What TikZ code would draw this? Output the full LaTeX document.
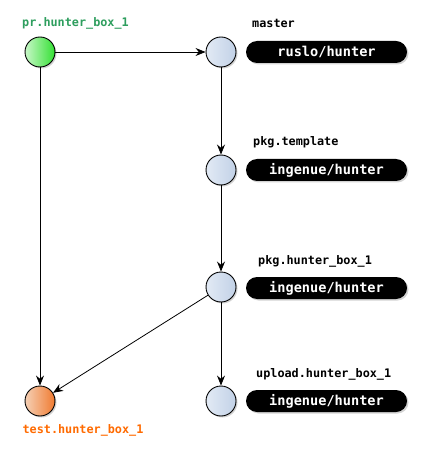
\documentclass[tikz,border=0pt]{standalone}
\usepackage{fontspec}
\setmonofont{DejaVu Sans Mono}
\usetikzlibrary{arrows.meta,shadows}

\definecolor{prgreen}{HTML}{2E9E5E}
\definecolor{testorange}{HTML}{FF6A00}
\definecolor{bluelight}{HTML}{E2EAF5}
\definecolor{bluedark}{HTML}{C2D1E6}
\definecolor{greenlight}{HTML}{C8F7C8}
\definecolor{greendark}{HTML}{33E033}
\definecolor{orangelight}{HTML}{F5D0B5}
\definecolor{orangedark}{HTML}{F07A30}

\tikzset{
  commit/.style={circle, draw=black, line width=0.9pt, minimum size=30pt, inner sep=0pt,
    drop shadow={shadow xshift=1.5pt, shadow yshift=-1.5pt, opacity=0.35}},
  bluecommit/.style={commit, left color=bluelight, right color=bluedark},
  greencommit/.style={commit, left color=greenlight, right color=greendark},
  orangecommit/.style={commit, left color=orangelight, right color=orangedark},
  repo/.style={fill=black, text=white, rounded corners=11pt, minimum width=161pt,
    minimum height=22pt, inner sep=0pt, font=\ttfamily\bfseries\fontsize{13.6}{16}\selectfont,
    drop shadow={shadow xshift=1.5pt, shadow yshift=-1.5pt, opacity=0.35}},
  branch/.style={font=\ttfamily\bfseries\fontsize{11.8}{14}\selectfont, inner sep=0pt},
  link/.style={-{Stealth[length=10pt,width=8pt]}, line width=0.8pt, black}
}

\begin{document}
\begin{tikzpicture}[x=1pt, y=-1pt]
  \useasboundingbox (0,0) rectangle (422,454);

  % commits
  \node[greencommit] (pr) at (40,52) {};
  \node[bluecommit] (master) at (221,52) {};
  \node[bluecommit] (tmpl) at (221,170) {};
  \node[bluecommit] (hbox) at (221,287) {};
  \node[bluecommit] (upload) at (221,401) {};
  \node[orangecommit] (test) at (40,401) {};

  % branch names
  \node[branch, text=prgreen] (prlabel) at (75.5,23) {pr.hunter\_box\_1};
  \node[branch, anchor=west] (masterlabel) at (252,23) {master};
  \node[branch, anchor=west] (tmpllabel) at (253,142) {pkg.template};
  \node[branch, anchor=west] (hboxlabel) at (258,261) {pkg.hunter\_box\_1};
  \node[branch, anchor=west] (uploadlabel) at (256,374) {upload.hunter\_box\_1};
  \node[branch, text=testorange] (testlabel) at (83,430) {test.hunter\_box\_1};

  % repositories
  \node[repo] (masterrepo) at (326.5,52) {ruslo/hunter};
  \node[repo] (tmplrepo) at (326.5,170) {ingenue/hunter};
  \node[repo] (hboxrepo) at (326.5,288) {ingenue/hunter};
  \node[repo] (uploadrepo) at (326.5,401) {ingenue/hunter};

  % history
  \draw[link] (pr) -- (master);
  \draw[link] (master) -- (tmpl);
  \draw[link] (tmpl) -- (hbox);
  \draw[link] (hbox) -- (upload);
  \draw[link] (hbox) -- (test);
  \draw[link] (pr) -- (test);
\end{tikzpicture}
\end{document}
